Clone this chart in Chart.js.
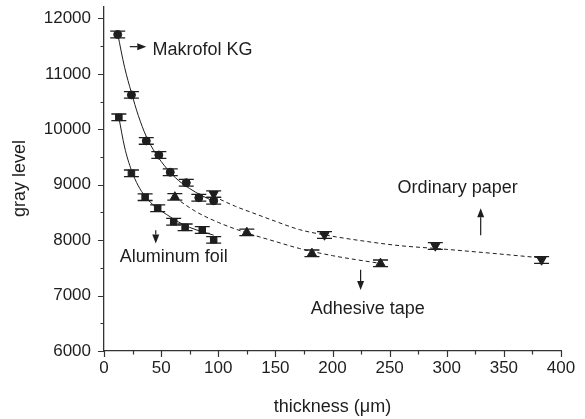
<!DOCTYPE html>
<html>
<head>
<meta charset="utf-8">
<script src="https://cdn.jsdelivr.net/npm/chart.js@4.4.0/dist/chart.umd.min.js"></script>
<style>
  html, body { margin: 0; padding: 0; background: #fff; }
  #wrap { width: 585px; height: 419px; }
</style>
</head>
<body>
<div id="wrap"><canvas id="chart" width="585" height="419"></canvas></div>
<script>
// measured points (thickness in um, gray level)
const makrofolX = [12, 24, 37, 48, 58, 72, 83, 96];
const makrofolY = [11710, 10620, 9790, 9535, 9225, 9035, 8765, 8710];
const makrofolErr = [60, 60, 60, 60, 60, 60, 60, 60];

const aluminumX = [13, 24, 36, 47, 61, 71, 86, 96];
const aluminumY = [10215, 9205, 8775, 8575, 8332, 8231, 8182, 8005];
const aluminumErr = [60, 60, 60, 60, 60, 60, 60, 60];

const adhesiveX = [62, 125, 182, 242];
const adhesiveY = [8780, 8140, 7762, 7582];
const adhesiveErr = [60, 60, 60, 60];

const paperX = [96, 193, 290, 383];
const paperY = [8830, 8092, 7894, 7641];
const paperErr = [60, 60, 60, 60];

// fitted curves
const makrofolFitX = [12, 18, 24, 30, 37, 45, 55, 65, 75, 85, 96];
const makrofolFitY = [11720, 11120, 10660, 10250, 9870, 9570, 9290, 9080, 8930, 8810, 8700];
const aluminumFitX = [13, 18, 24, 30, 36, 45, 55, 65, 75, 86, 96];
const aluminumFitY = [10215, 9680, 9260, 8980, 8790, 8600, 8460, 8330, 8230, 8150, 8090];
const adhesiveFitX = [62, 80, 100, 125, 150, 171, 200, 220, 242];
const adhesiveFitY = [8770, 8520, 8320, 8130, 7975, 7850, 7720, 7650, 7580];
const paperFitX = [96, 115, 133, 150, 171, 193, 225, 259, 290, 330, 383];
const paperFitY = [8790, 8610, 8470, 8340, 8190, 8095, 7990, 7900, 7850, 7780, 7680];

// axis ticks
const xMajorTicks = [0, 50, 100, 150, 200, 250, 300, 350, 400];
const xMinorTicks = [25, 75, 125, 175, 225, 275, 325, 375];
const yMajorTicks = [6000, 7000, 8000, 9000, 10000, 11000, 12000];
const yMinorTicks = [6500, 7500, 8500, 9500, 10500, 11500];

const INK = '#1e1e1e';
const AXIS = '#333';
const FONT = "'Liberation Sans', Arial, sans-serif";

function pts(xs, ys) {
  return xs.map((x, i) => ({ x: x, y: ys[i] }));
}

const markerSeries = [
  { x: makrofolX, y: makrofolY, err: makrofolErr, style: 'circle', radius: 4, rot: 0 },
  { x: aluminumX, y: aluminumY, err: aluminumErr, style: 'rect', radius: 4.6, rot: 0 },
  { x: adhesiveX, y: adhesiveY, err: adhesiveErr, style: 'triangle', radius: 5.2, rot: 0 },
  { x: paperX, y: paperY, err: paperErr, style: 'triangle', radius: 5.2, rot: 180 },
];

const fitSeries = [
  { x: makrofolFitX, y: makrofolFitY, dash: [] },
  { x: aluminumFitX, y: aluminumFitY, dash: [] },
  { x: adhesiveFitX, y: adhesiveFitY, dash: [4, 3] },
  { x: paperFitX, y: paperFitY, dash: [4, 3] },
];

const datasets = [];
fitSeries.forEach(s => {
  datasets.push({
    type: 'line',
    data: pts(s.x, s.y),
    borderColor: INK,
    borderWidth: 1,
    borderDash: s.dash,
    pointRadius: 0,
    fill: false,
    cubicInterpolationMode: 'monotone',
  });
});
markerSeries.forEach(s => {
  datasets.push({
    type: 'scatter',
    data: pts(s.x, s.y),
    pointStyle: s.style,
    pointRadius: s.radius,
    rotation: s.rot,
    backgroundColor: INK,
    borderColor: INK,
    borderWidth: 1,
    showLine: false,
  });
});

// text labels with arrows, placed in data units
const notes = [
  { text: 'Makrofol KG', x: 42.4, y: 11430, arrow: [22.6, 11490, 37, 11490] },
  { text: 'Aluminum foil', x: 13.7, y: 7695, arrow: [45.3, 8180, 45.3, 7940] },
  { text: 'Adhesive tape', x: 181, y: 6760, arrow: [224.6, 7465, 224.6, 7100] },
  { text: 'Ordinary paper', x: 257, y: 8940, arrow: [329.7, 8090, 329.7, 8575] },
];

function drawArrow(ctx, x1, y1, x2, y2) {
  const a = Math.atan2(y2 - y1, x2 - x1);
  const len = 9, half = 3.5;
  ctx.beginPath();
  ctx.moveTo(x1, y1);
  ctx.lineTo(x2 - Math.cos(a) * len, y2 - Math.sin(a) * len);
  ctx.stroke();
  ctx.beginPath();
  ctx.moveTo(x2, y2);
  ctx.lineTo(x2 - Math.cos(a) * len - Math.sin(a) * half, y2 - Math.sin(a) * len + Math.cos(a) * half);
  ctx.lineTo(x2 - Math.cos(a) * len + Math.sin(a) * half, y2 - Math.sin(a) * len - Math.cos(a) * half);
  ctx.closePath();
  ctx.fill();
}

const decorations = {
  id: 'decorations',
  beforeDatasetsDraw(chart) {
    // error bars with wide caps
    const { ctx, scales: { x: xs, y: ys } } = chart;
    ctx.save();
    ctx.strokeStyle = INK;
    ctx.lineWidth = 1.3;
    markerSeries.forEach(s => {
      s.x.forEach((xv, i) => {
        const px = xs.getPixelForValue(xv);
        const top = ys.getPixelForValue(s.y[i] + s.err[i]);
        const bot = ys.getPixelForValue(s.y[i] - s.err[i]);
        ctx.beginPath();
        ctx.moveTo(px, top); ctx.lineTo(px, bot);
        ctx.moveTo(px - 7.5, top); ctx.lineTo(px + 7.5, top);
        ctx.moveTo(px - 7.5, bot); ctx.lineTo(px + 7.5, bot);
        ctx.stroke();
      });
    });
    ctx.restore();
  },
  afterDraw(chart) {
    const { ctx, chartArea, scales: { x: xs, y: ys } } = chart;
    ctx.save();
    // outward ticks
    ctx.strokeStyle = AXIS;
    ctx.lineWidth = 1.2;
    ctx.beginPath();
    xMajorTicks.forEach(v => {
      const px = Math.round(xs.getPixelForValue(v)) + 0.5;
      ctx.moveTo(px, chartArea.bottom); ctx.lineTo(px, chartArea.bottom + 6);
    });
    xMinorTicks.forEach(v => {
      const px = Math.round(xs.getPixelForValue(v)) + 0.5;
      ctx.moveTo(px, chartArea.bottom); ctx.lineTo(px, chartArea.bottom + 3.5);
    });
    yMajorTicks.forEach(v => {
      const py = Math.round(ys.getPixelForValue(v)) + 0.5;
      ctx.moveTo(chartArea.left, py); ctx.lineTo(chartArea.left - 6, py);
    });
    yMinorTicks.forEach(v => {
      const py = Math.round(ys.getPixelForValue(v)) + 0.5;
      ctx.moveTo(chartArea.left, py); ctx.lineTo(chartArea.left - 3.5, py);
    });
    ctx.stroke();

    // labels and arrows
    ctx.fillStyle = INK;
    ctx.strokeStyle = INK;
    ctx.lineWidth = 1.2;
    ctx.font = '18px ' + FONT;
    ctx.textAlign = 'left';
    ctx.textBaseline = 'middle';
    notes.forEach(n => {
      ctx.fillText(n.text, xs.getPixelForValue(n.x), ys.getPixelForValue(n.y));
      const a = n.arrow;
      drawArrow(ctx, xs.getPixelForValue(a[0]), ys.getPixelForValue(a[1]),
                xs.getPixelForValue(a[2]), ys.getPixelForValue(a[3]));
    });
    ctx.restore();
  }
};

new Chart(document.getElementById('chart'), {
  type: 'scatter',
  data: { datasets: datasets },
  plugins: [decorations],
  options: {
    responsive: false,
    animation: false,
    layout: { padding: { top: 6, right: 24, left: 0, bottom: 0 } },
    plugins: {
      legend: { display: false },
      tooltip: { enabled: false },
    },
    scales: {
      x: {
        type: 'linear',
        min: 0,
        max: 400,
        afterBuildTicks: scale => { scale.ticks = xMajorTicks.map(v => ({ value: v })); },
        afterFit: scale => {
          scale.height = 68;
          scale.paddingLeft = 0;
          scale.paddingRight = 0;
        },
        grid: { display: false, drawTicks: false },
        border: { display: true, color: AXIS, width: 1.3 },
        ticks: {
          color: INK, padding: 7, maxRotation: 0,
          font: { family: FONT, size: 17 },
          callback: v => String(v),
        },
        title: {
          display: true,
          text: 'thickness (\u03bcm)',
          color: INK,
          font: { family: FONT, size: 18 },
          padding: { top: 0, bottom: 1 },
        },
      },
      y: {
        type: 'linear',
        min: 6000,
        max: 12220,
        afterBuildTicks: scale => { scale.ticks = yMajorTicks.map(v => ({ value: v })); },
        afterFit: scale => {
          scale.width = 104;
          scale.paddingTop = 0;
          scale.paddingBottom = 0;
        },
        grid: { display: false, drawTicks: false },
        border: { display: true, color: AXIS, width: 1.3 },
        ticks: {
          color: INK, padding: 13,
          font: { family: FONT, size: 17 },
          callback: v => String(v),
        },
        title: {
          display: true,
          text: 'gray level',
          color: INK,
          font: { family: FONT, size: 18 },
          padding: { top: 9, bottom: 0 },
        },
      },
    },
  },
});
</script>
</body>
</html>
